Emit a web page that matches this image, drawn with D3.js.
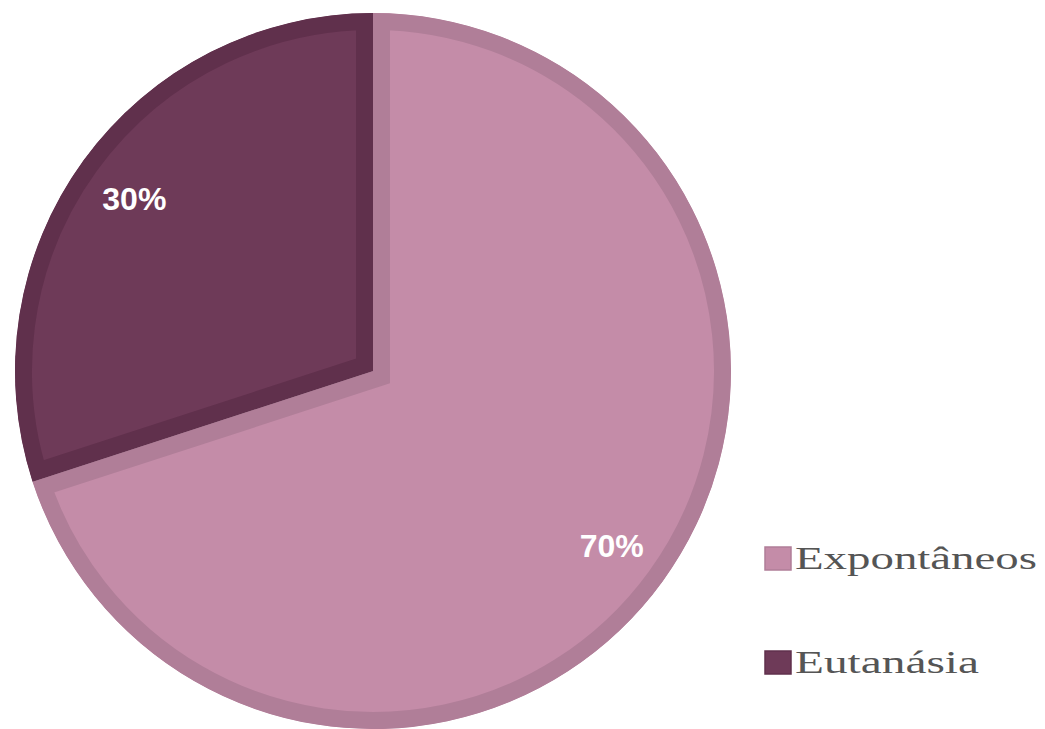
<!DOCTYPE html>
<html>
<head>
<meta charset="utf-8">
<script src="https://cdn.jsdelivr.net/npm/d3@7/dist/d3.min.js"></script>
<style>
  html, body { margin: 0; padding: 0; background: #fff; }
  svg { display: block; }
</style>
</head>
<body>
<svg id="chart" width="1045" height="729"></svg>
<script>
// Slice data
const categories = ["Expontâneos", "Eutanásia"];
const shares = [70, 30];
const labels = ["70%", "30%"];
const fills = ["#C48CA8", "#6E3A58"];
const borders = ["#B07E98", "#60304C"];

const svg = d3.select("#chart");
const cx = 373, cy = 371, R = 358;
const borderW = 17;

const pie = d3.pie().sort(null).value(d => d.v).startAngle(0).endAngle(2 * Math.PI);
const arcs = pie(categories.map((c, i) => ({ c, v: shares[i], i })));

const arc = d3.arc().innerRadius(0).outerRadius(R);
const labelArc = d3.arc().innerRadius(295).outerRadius(295);

const defs = svg.append("defs");
arcs.forEach((a, i) => {
  defs.append("clipPath").attr("id", "slice-clip-" + i)
    .append("path").attr("d", arc(a));
});

const g = svg.append("g").attr("transform", `translate(${cx},${cy})`);

// Each slice: fill plus an inner border clipped to the slice shape
g.selectAll("path.slice")
  .data(arcs)
  .join("path")
  .attr("class", "slice")
  .attr("d", arc)
  .attr("fill", d => fills[d.data.i])
  .attr("stroke", d => borders[d.data.i])
  .attr("stroke-width", borderW * 2)
  .attr("stroke-linejoin", "miter")
  .attr("clip-path", d => `url(#slice-clip-${d.data.i})`);

// Percentage labels
g.selectAll("text.pct")
  .data(arcs)
  .join("text")
  .attr("class", "pct")
  .attr("transform", d => `translate(${labelArc.centroid(d)})`)
  .attr("text-anchor", "middle")
  .attr("dy", "0.38em")
  .attr("fill", "#ffffff")
  .attr("font-family", "Liberation Sans, Arial, sans-serif")
  .attr("font-weight", "bold")
  .attr("font-size", 32)
  .text(d => labels[d.data.i]);

// Legend
const legendX = 765;
const legendRows = [558, 662];
const legendWidths = [242, 184];
const legend = svg.append("g");
categories.forEach((c, i) => {
  legend.append("rect")
    .attr("x", legendX)
    .attr("y", legendRows[i] - 11)
    .attr("width", 26)
    .attr("height", 23)
    .attr("fill", fills[i])
    .attr("stroke", borders[i])
    .attr("stroke-width", 1.5);
  legend.append("text")
    .attr("x", legendX + 30)
    .attr("y", legendRows[i] + 11)
    .attr("fill", "#555555")
    .attr("font-family", "Liberation Serif, Times New Roman, serif")
    .attr("font-size", 31)
    .attr("textLength", legendWidths[i])
    .attr("lengthAdjust", "spacingAndGlyphs")
    .text(c);
});
</script>
</body>
</html>
